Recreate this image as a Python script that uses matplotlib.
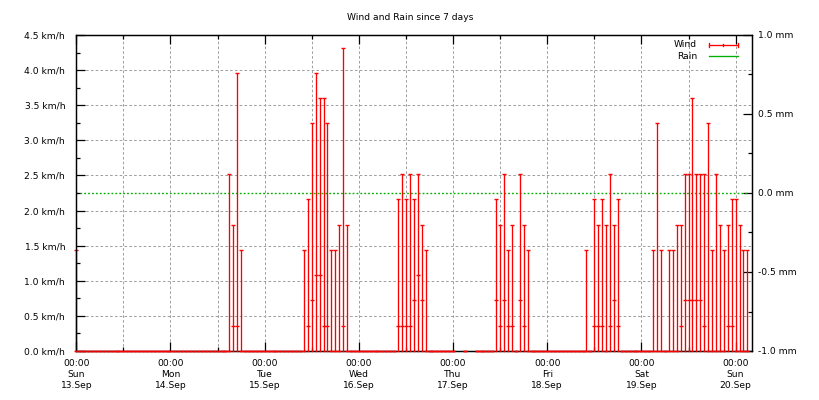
import matplotlib
matplotlib.use("Agg")
import matplotlib.pyplot as plt
import numpy as np
from matplotlib.lines import Line2D
from matplotlib.ticker import MultipleLocator, FixedLocator

plt.rcParams["font.family"] = ["DejaVu Sans"]
FS = 6.6
NaN = float("nan")

# ---- data: hourly samples, hour offset since Sun 13.Sep 00:00 ----
hours = list(range(0, 172))

# wind gust (max) in km/h, one row per day (NaN = missing sample)
gust_sun13 = [1.44, 0, 0, 0, 0, 0, 0, 0, 0, 0, 0, 0, 0, 0, 0, 0, 0, 0, 0, 0, 0, 0, 0, 0]
gust_mon14 = [0, 0, 0, 0, 0, 0, 0, 0, 0, 0, 0, 0, 0, 0, 0, 2.52, 1.80, 3.96, 1.44, 0, 0, 0, 0, 0]
gust_tue15 = [0, 0, 0, 0, 0, 0, 0, 0, 0, 0, 1.44, 2.16, 3.24, 3.96, 3.60, 3.60, 3.24, 1.44, 1.44, 1.80, 4.32, 1.80, 0, 0]
gust_wed16 = [0, 0, 0, 0, 0, 0, 0, 0, 0, 0, 2.16, 2.52, 2.16, 2.52, 2.16, 2.52, 1.80, 1.44, 0, 0, 0, 0, 0, 0]
gust_thu17 = [0, NaN, NaN, 0, NaN, NaN, 0, 0, 0, 0, 0, 2.16, 1.80, 2.52, 1.44, 1.80, 0, 2.52, 1.80, 1.44, 0, 0, 0, 0]
gust_fri18 = [0, 0, 0, 0, 0, 0, 0, 0, 0, 0, 1.44, 0, 2.16, 1.80, 2.16, 1.80, 2.52, 1.80, 2.16, 0, 0, 0, 0, 0]
gust_sat19 = [0, 0, 0, 1.44, 3.24, 1.44, 0, 1.44, 1.44, 1.80, 1.80, 2.52, 2.52, 3.60, 2.52, 2.52, 2.52, 3.24, 1.44, 2.52, 1.80, 1.44, 1.80, 2.16]
gust_sun20 = [2.16, 1.80, 1.44, 1.44]

# wind average in km/h
avg_sun13 = [0, 0, 0, 0, 0, 0, 0, 0, 0, 0, 0, 0, 0, 0, 0, 0, 0, 0, 0, 0, 0, 0, 0, 0]
avg_mon14 = [0, 0, 0, 0, 0, 0, 0, 0, 0, 0, 0, 0, 0, 0, 0, 0, 0.36, 0.36, 0, 0, 0, 0, 0, 0]
avg_tue15 = [0, 0, 0, 0, 0, 0, 0, 0, 0, 0, 0, 0.36, 0.72, 1.08, 1.08, 0.36, 0.36, 0, 0, 0, 0.36, 0, 0, 0]
avg_wed16 = [0, 0, 0, 0, 0, 0, 0, 0, 0, 0, 0.36, 0.36, 0.36, 0.36, 0.72, 1.08, 0.72, 0, 0, 0, 0, 0, 0, 0]
avg_thu17 = [0, NaN, NaN, 0, NaN, NaN, 0, 0, 0, 0, 0, 0.72, 0.36, 0.72, 0.36, 0.36, 0, 0.72, 0.36, 0, 0, 0, 0, 0]
avg_fri18 = [0, 0, 0, 0, 0, 0, 0, 0, 0, 0, 0, 0, 0.36, 0.36, 0.36, 0, 0.36, 0.72, 0.36, 0, 0, 0, 0, 0]
avg_sat19 = [0, 0, 0, 0, 0, 0, 0, 0, 0, 0, 0.36, 0.72, 0.72, 0.72, 0.72, 0.72, 0.36, 0, 0, 0, 0, 0, 0.36, 0.36]
avg_sun20 = [0, 0, 0, 0]

# wind minimum in km/h (always calm)
wind_min_kmh = 0.0

# rain in mm
rain_sun13 = [0, 0, 0, 0, 0, 0, 0, 0, 0, 0, 0, 0, 0, 0, 0, 0, 0, 0, 0, 0, 0, 0, 0, 0]
rain_mon14 = [0, 0, 0, 0, 0, 0, 0, 0, 0, 0, 0, 0, 0, 0, 0, 0, 0, 0, 0, 0, 0, 0, 0, 0]
rain_tue15 = [0, 0, 0, 0, 0, 0, 0, 0, 0, 0, 0, 0, 0, 0, 0, 0, 0, 0, 0, 0, 0, 0, 0, 0]
rain_wed16 = [0, 0, 0, 0, 0, 0, 0, 0, 0, 0, 0, 0, 0, 0, 0, 0, 0, 0, 0, 0, 0, 0, 0, 0]
rain_thu17 = [0, NaN, NaN, 0, NaN, NaN, 0, 0, 0, 0, 0, 0, 0, 0, 0, 0, 0, 0, 0, 0, 0, 0, 0, 0]
rain_fri18 = [0, 0, 0, 0, 0, 0, 0, 0, 0, 0, 0, 0, 0, 0, 0, 0, 0, 0, 0, 0, 0, 0, 0, 0]
rain_sat19 = [0, 0, 0, 0, 0, 0, 0, 0, 0, 0, 0, 0, 0, 0, 0, 0, 0, 0, 0, 0, 0, 0, 0, 0]
rain_sun20 = [0, 0, 0, 0]

tick_hours = [0, 24, 48, 72, 96, 120, 144, 168]
tick_labels = ["00:00\nSun\n13.Sep", "00:00\nMon\n14.Sep", "00:00\nTue\n15.Sep",
               "00:00\nWed\n16.Sep", "00:00\nThu\n17.Sep", "00:00\nFri\n18.Sep",
               "00:00\nSat\n19.Sep", "00:00\nSun\n20.Sep"]
y_ticks = [0.0, 0.5, 1.0, 1.5, 2.0, 2.5, 3.0, 3.5, 4.0, 4.5]
y2_ticks = [-1.0, -0.5, 0.0, 0.5, 1.0]

title = "Wind and Rain since 7 days"

# ---- assemble ----
gust = np.array(gust_sun13 + gust_mon14 + gust_tue15 + gust_wed16 +
                gust_thu17 + gust_fri18 + gust_sat19 + gust_sun20, dtype=float)
avg = np.array(avg_sun13 + avg_mon14 + avg_tue15 + avg_wed16 +
               avg_thu17 + avg_fri18 + avg_sat19 + avg_sun20, dtype=float)
rain = np.array(rain_sun13 + rain_mon14 + rain_tue15 + rain_wed16 +
                rain_thu17 + rain_fri18 + rain_sat19 + rain_sun20, dtype=float)
h = np.array(hours, dtype=float)
ok = ~np.isnan(gust)
hh, gg, aa = h[ok], gust[ok], avg[ok]
mm = np.full_like(gg, wind_min_kmh)

RED = "#ff0000"
GREEN = "#00b000"
GRID = "#a0a0a0"
PX = 0.72  # one pixel in points at dpi 100

fig = plt.figure(figsize=(8.2, 4.0), dpi=100)
L, R, B, T = 76.3, 751.7, 351.0, 35.0
ax = fig.add_axes([L / 820, 1 - B / 400, (R - L) / 820, (B - T) / 400])
ax2 = ax.twinx()

ax.set_xlim(0, 172.1)
ax.set_ylim(0, 4.5)
ax2.set_ylim(-1.0, 1.0)

# grid
ax.xaxis.set_major_locator(FixedLocator(tick_hours))
ax.xaxis.set_minor_locator(MultipleLocator(12))
ax.set_xticklabels(tick_labels, fontsize=FS, linespacing=1.32)
ax.yaxis.set_major_locator(FixedLocator(y_ticks))
ax.yaxis.set_minor_locator(MultipleLocator(0.25))
ax.set_yticklabels([f"{v:.1f} km/h" for v in y_ticks], fontsize=FS)
ax.xaxis.grid(True, which="both", color=GRID, linestyle=(0, (2.6, 2.2)), linewidth=PX)
ax.yaxis.grid(True, which="major", color=GRID, linestyle=(0, (2.6, 2.2)), linewidth=PX)
ax.set_axisbelow(True)

ax.tick_params(axis="x", which="both", direction="in", top=True, bottom=True, pad=5.6)
ax.tick_params(axis="y", which="both", direction="in", left=True, right=False, pad=8.0)
ax.tick_params(which="major", length=6.2, width=0.9)
ax.tick_params(which="minor", length=3.2, width=0.9)

ax2.yaxis.set_major_locator(FixedLocator(y2_ticks))
ax2.yaxis.set_minor_locator(MultipleLocator(0.25))
ax2.set_yticklabels([f"{v:.1f} mm" for v in y2_ticks], fontsize=FS)
ax2.tick_params(axis="y", which="both", direction="in", right=True, pad=4.6)
ax2.tick_params(which="major", length=6.2, width=0.9)
ax2.tick_params(which="minor", length=3.2, width=0.9)

for a in (ax, ax2):
    for s in a.spines.values():
        s.set_linewidth(0.9)
        s.set_color("black")

# rain line (on secondary axis)
ax2.plot(hh, rain[ok], color=GREEN, linewidth=1.0, linestyle=(0, (1.3, 1.5)), zorder=2)

# wind: bar from minimum to gust, caps at both ends, tick at average
ax.vlines(hh, mm, gg, color=RED, linewidth=0.95, zorder=2.2, clip_on=False)
ax.plot(hh, gg, linestyle="none", marker="_", markersize=3.1, markeredgewidth=1.0,
        color=RED, zorder=2.2, clip_on=False)
ax.plot(hh, mm, linestyle="none", marker="_", markersize=2.0, markeredgewidth=1.0,
        color=RED, zorder=3, clip_on=False)
ax.plot(hh, aa, linestyle="none", marker="_", markersize=2.3, markeredgewidth=1.0,
        color=RED, zorder=3, clip_on=False)

ax.set_zorder(ax2.get_zorder() + 1)
ax.patch.set_visible(False)

# legend (gnuplot style, drawn in axes coords)
tr = ax.transAxes
y1, y2 = 0.969, 0.9335
x0, x1 = 0.937, 0.979
ax.text(0.919, y1, "Wind", transform=tr, ha="right", va="center", fontsize=FS)
ax.text(0.919, y2, "Rain", transform=tr, ha="right", va="center", fontsize=FS)
ax.add_line(Line2D([x0, x1], [y1, y1], transform=tr, color=RED, linewidth=0.95, clip_on=False))
ax.add_line(Line2D([x0, x0], [y1 - 0.007, y1 + 0.007], transform=tr, color=RED, linewidth=0.95, clip_on=False))
ax.add_line(Line2D([x1, x1], [y1 - 0.007, y1 + 0.007], transform=tr, color=RED, linewidth=0.95, clip_on=False))
ax.add_line(Line2D([(x0 + x1) / 2] * 2, [y1 - 0.0035, y1 + 0.0035], transform=tr, color=RED, linewidth=0.95, clip_on=False))
ax.add_line(Line2D([x0, x1], [y2, y2], transform=tr, color=GREEN, linewidth=0.95, clip_on=False))

fig.text(0.5, 1 - 17 / 400, title, ha="center", va="center", fontsize=FS)

fig.savefig("out.png", dpi=100)
